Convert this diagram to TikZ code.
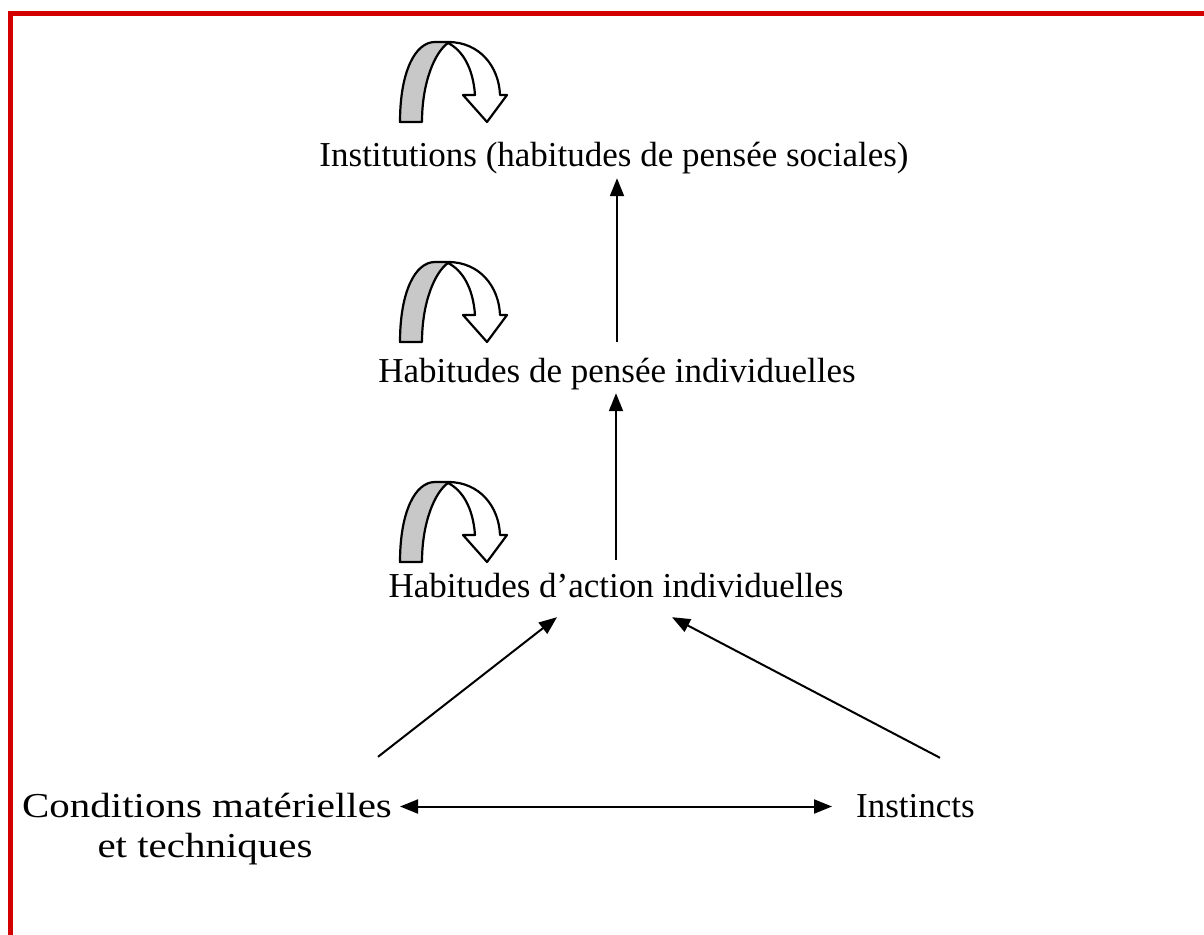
\documentclass[tikz,border=0pt]{standalone}
\usepackage{fontspec}
\setmainfont{Liberation Serif}
\usetikzlibrary{arrows.meta}
\definecolor{frame}{RGB}{212,0,0}
\definecolor{loopgray}{RGB}{200,200,200}
\tikzset{
  lbl/.style={font=\fontsize{35}{42}\selectfont, inner sep=0pt, text height=25pt, text depth=8pt},
  arr/.style={line width=2pt, -{Triangle[length=18pt,width=14pt]}},
  darr/.style={line width=2pt, {Triangle[length=18pt,width=14pt]}-{Triangle[length=18pt,width=14pt]}},
  loopline/.style={line width=2.2pt, line join=round},
  selfloop/.pic={
    \fill[loopgray] (0,0) .. controls (0,-50) and (15,-80) .. (35,-80) -- (48,-79) .. controls (35,-70) and (22,-40) .. (22,0) -- cycle;
    \draw[loopline] (0,0) .. controls (0,-50) and (15,-80) .. (35,-80) -- (48,-80) .. controls (80,-80) and (99,-55) .. (100,-27) -- (107,-27) -- (87,0) -- (63,-27) -- (75,-27) .. controls (73,-55) and (62,-72) .. (48,-79) .. controls (35,-70) and (22,-40) .. (22,0) -- cycle;
  }
}
\begin{document}
\begin{tikzpicture}[x=1pt,y=-1pt]
\useasboundingbox (0,0) rectangle (1204,934);
\fill[white] (0,0) rectangle (1204,934);
\draw[frame, line width=5pt] (10,940) -- (10,14) -- (1210,14);

\node[lbl, anchor=base] (inst) at (614,166) {Institutions (habitudes de pensée sociales)};
\node[lbl, anchor=base] (hp) at (617,382) {Habitudes de pensée individuelles};
\node[lbl, anchor=base] (hac) at (616,597) {Habitudes d’action individuelles};
\node[lbl, anchor=base] (cond) at (207,817) {\scalebox{1.17}[1]{Conditions matérielles}};
\node[lbl, anchor=base] (cond2) at (205,857) {\scalebox{1.17}[1]{et techniques}};
\node[lbl, anchor=base west] (instc) at (856,817) {Instincts};

\pic at (400,122) {selfloop};
\pic at (400,342) {selfloop};
\pic at (400,562) {selfloop};

\draw[arr, shorten <=15pt, shorten >=4pt] (hp.north) -- (hp.north |- inst.south);
\draw[arr, shorten <=12pt, shorten >=3pt] (hac.north) -- (hac.north |- hp.south);
\draw[arr] ([shift={(-14,-35)}]cond.north east) -- ([shift={(-59,12)}]hac.south);
\draw[arr] ([shift={(84,-34)}]instc.north west) -- ([shift={(56,12)}]hac.south);
\draw[darr] ([shift={(8,-2)}]cond.east) -- ([shift={(-24,-2)}]instc.west);
\end{tikzpicture}
\end{document}
